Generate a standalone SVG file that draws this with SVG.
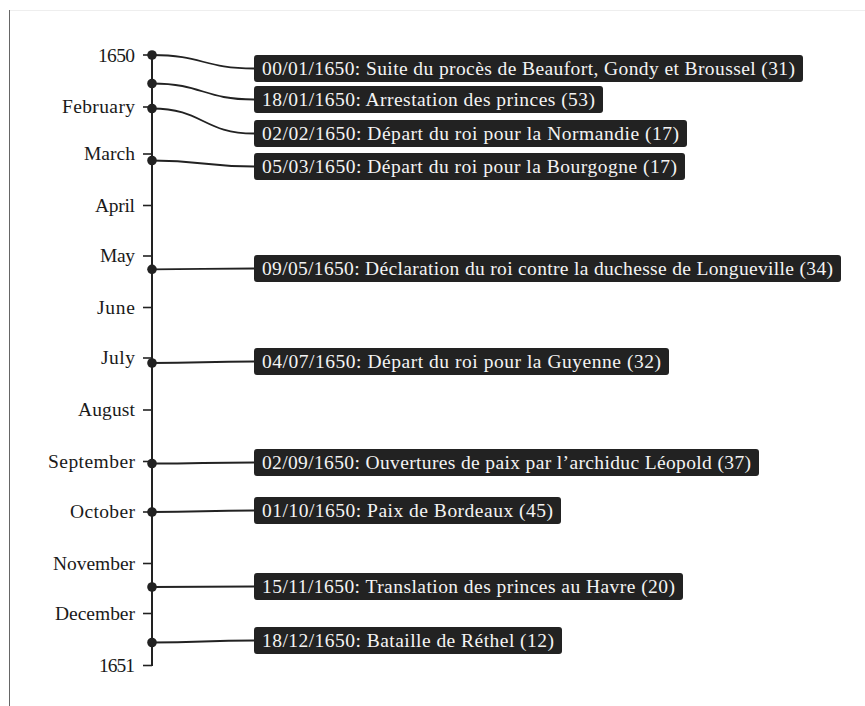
<svg xmlns="http://www.w3.org/2000/svg" width="865" height="706" viewBox="0 0 865 706">
<style>
.frame{stroke:#666;stroke-width:1;fill:none}
.frametop{stroke:#eee;stroke-width:1;fill:none}
.axis{stroke:#222;stroke-width:2;fill:none}
.tick{stroke:#222;stroke-width:1.6;fill:none}
.tl{font-family:"Liberation Serif","DejaVu Serif",serif;font-size:19.5px;fill:#1a1a1a;text-anchor:end}
.conn{stroke:#222;stroke-width:1.8;fill:none}
.dot{fill:#222}
.box{fill:#222}
.bt{font-family:"Liberation Serif","DejaVu Serif",serif;font-size:19.5px;fill:#f4f4f4}
</style>
<rect width="865" height="706" fill="#fff"/>
<line class="frametop" x1="9" y1="10.5" x2="865" y2="10.5"/>
<line class="frame" x1="9.5" y1="10" x2="9.5" y2="706"/>
<g id="axis">
<line class="axis" x1="152" y1="55" x2="152" y2="666"/>
<line class="tick" x1="143" y1="55" x2="152" y2="55"/>
<line class="tick" x1="143" y1="107" x2="152" y2="107"/>
<line class="tick" x1="143" y1="154" x2="152" y2="154"/>
<line class="tick" x1="143" y1="205.5" x2="152" y2="205.5"/>
<line class="tick" x1="143" y1="256" x2="152" y2="256"/>
<line class="tick" x1="143" y1="307.5" x2="152" y2="307.5"/>
<line class="tick" x1="143" y1="358" x2="152" y2="358"/>
<line class="tick" x1="143" y1="410" x2="152" y2="410"/>
<line class="tick" x1="143" y1="461.5" x2="152" y2="461.5"/>
<line class="tick" x1="143" y1="512" x2="152" y2="512"/>
<line class="tick" x1="143" y1="563.5" x2="152" y2="563.5"/>
<line class="tick" x1="143" y1="613.5" x2="152" y2="613.5"/>
<line class="tick" x1="143" y1="665.5" x2="152" y2="665.5"/>
<text class="tl" x="135" y="61.5" textLength="37">1650</text>
<text class="tl" x="135" y="113" textLength="73">February</text>
<text class="tl" x="135" y="160" textLength="51">March</text>
<text class="tl" x="135" y="211.5" textLength="40">April</text>
<text class="tl" x="135" y="262" textLength="35">May</text>
<text class="tl" x="135" y="313.5" textLength="38">June</text>
<text class="tl" x="135" y="364" textLength="34">July</text>
<text class="tl" x="135" y="416" textLength="57">August</text>
<text class="tl" x="135" y="467.5" textLength="87">September</text>
<text class="tl" x="135" y="518" textLength="65">October</text>
<text class="tl" x="135" y="569.5" textLength="82">November</text>
<text class="tl" x="135" y="619.5" textLength="80">December</text>
<text class="tl" x="135" y="671.5" textLength="36">1651</text>
</g>
<g id="connectors">
<path class="conn" d="M152,55 C203,55 203,68.5 254,68.5"/>
<path class="conn" d="M152,83.5 C203,83.5 203,99.5 254,99.5"/>
<path class="conn" d="M152,108.5 C203,108.5 203,133.5 254,133.5"/>
<path class="conn" d="M152,160.5 C203,160.5 203,166.5 254,166.5"/>
<path class="conn" d="M152,269.3 C203,269.3 203,268.5 254,268.5"/>
<path class="conn" d="M152,363 C203,363 203,361.5 254,361.5"/>
<path class="conn" d="M152,463.5 C203,463.5 203,462.5 254,462.5"/>
<path class="conn" d="M152,512 C203,512 203,510.5 254,510.5"/>
<path class="conn" d="M152,587 C203,587 203,586.5 254,586.5"/>
<path class="conn" d="M152,642.5 C203,642.5 203,640.5 254,640.5"/>
</g>
<g id="dots">
<circle class="dot" cx="152" cy="55" r="4.8"/>
<circle class="dot" cx="152" cy="83.5" r="4.8"/>
<circle class="dot" cx="152" cy="108.5" r="4.8"/>
<circle class="dot" cx="152" cy="160.5" r="4.8"/>
<circle class="dot" cx="152" cy="269.3" r="4.8"/>
<circle class="dot" cx="152" cy="363" r="4.8"/>
<circle class="dot" cx="152" cy="463.5" r="4.8"/>
<circle class="dot" cx="152" cy="512" r="4.8"/>
<circle class="dot" cx="152" cy="587" r="4.8"/>
<circle class="dot" cx="152" cy="642.5" r="4.8"/>
</g>
<g id="e1"><rect class="box" x="254" y="55" width="549" height="27" rx="3"/><text class="bt" x="262" y="75" textLength="533">00/01/1650: Suite du procès de Beaufort, Gondy et Broussel (31)</text></g>
<g id="e2"><rect class="box" x="254" y="86" width="349" height="27" rx="3"/><text class="bt" x="262" y="106" textLength="333">18/01/1650: Arrestation des princes (53)</text></g>
<g id="e3"><rect class="box" x="254" y="120" width="433" height="27" rx="3"/><text class="bt" x="262" y="140" textLength="417">02/02/1650: Départ du roi pour la Normandie (17)</text></g>
<g id="e4"><rect class="box" x="254" y="153" width="431" height="27" rx="3"/><text class="bt" x="262" y="173" textLength="415">05/03/1650: Départ du roi pour la Bourgogne (17)</text></g>
<g id="e5"><rect class="box" x="254" y="255" width="587" height="27" rx="3"/><text class="bt" x="262" y="275" textLength="571">09/05/1650: Déclaration du roi contre la duchesse de Longueville (34)</text></g>
<g id="e6"><rect class="box" x="254" y="348" width="415" height="27" rx="3"/><text class="bt" x="262" y="368" textLength="399">04/07/1650: Départ du roi pour la Guyenne (32)</text></g>
<g id="e7"><rect class="box" x="254" y="449" width="505" height="27" rx="3"/><text class="bt" x="262" y="469" textLength="489">02/09/1650: Ouvertures de paix par l’archiduc Léopold (37)</text></g>
<g id="e8"><rect class="box" x="254" y="497" width="307" height="27" rx="3"/><text class="bt" x="262" y="517" textLength="291">01/10/1650: Paix de Bordeaux (45)</text></g>
<g id="e9"><rect class="box" x="254" y="573" width="429" height="27" rx="3"/><text class="bt" x="262" y="593" textLength="413">15/11/1650: Translation des princes au Havre (20)</text></g>
<g id="e10"><rect class="box" x="254" y="627" width="308" height="27" rx="3"/><text class="bt" x="262" y="647" textLength="292">18/12/1650: Bataille de Réthel (12)</text></g>
</svg>
